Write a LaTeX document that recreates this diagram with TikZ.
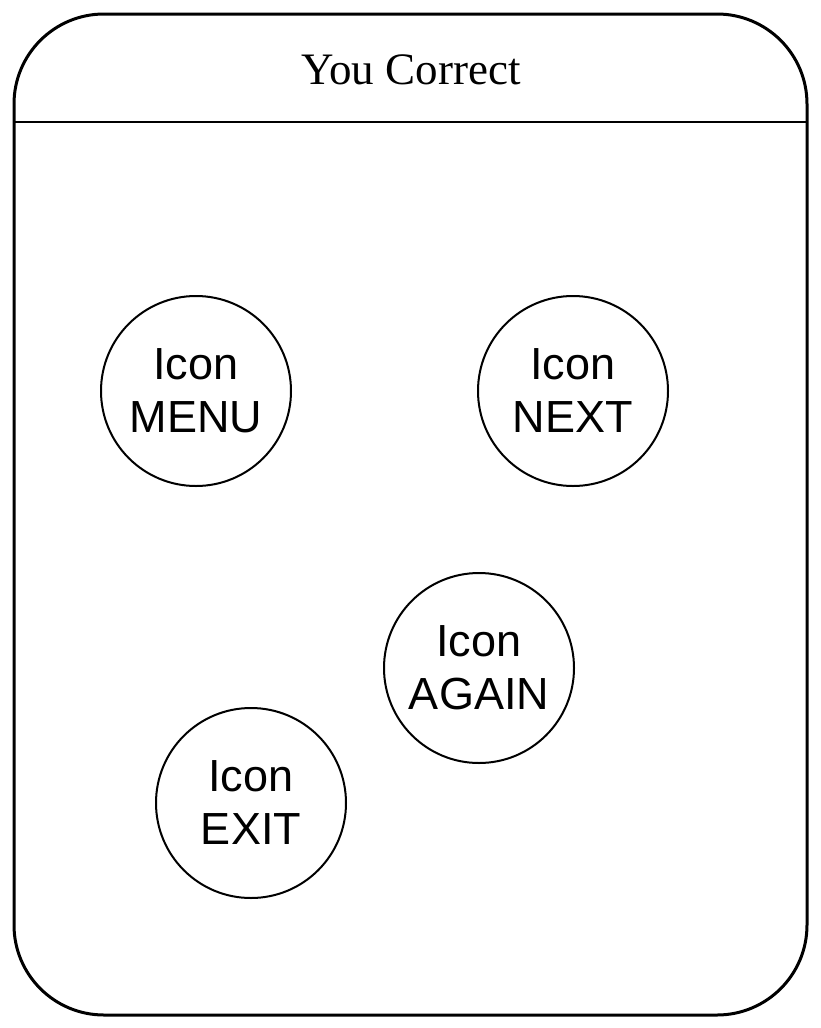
\documentclass[tikz,border=0pt]{standalone}
\usepackage{fontspec}
\setmainfont{Liberation Serif}
\newfontfamily\iconfont{Liberation Sans}
\usetikzlibrary{positioning}

\begin{document}
\begin{tikzpicture}[%
    x=1pt, y=-1pt,
    icon/.style={%
      draw,
      circle,
      line width=2pt,
      minimum size=190pt,
      inner sep=0pt,
      align=center,
      font=\iconfont\fontsize{45}{53}\selectfont,
    },
  ]
  \useasboundingbox (0,0) rectangle (821,1028);
  % screen frame
  \draw [line width=3pt, rounded corners=90pt] (14,14) rectangle (807,1015);
  \coordinate (bar left) at (14,122);
  \coordinate (bar right) at (807,122);
  \draw [line width=1.5pt] (bar left) -- (bar right);
  \node [font=\fontsize{45}{54}\selectfont] (title) at (411,70) {You Correct};

  % buttons
  \node [icon] (menu) at (196,391) {Icon\\MENU};
  \node [icon] (next) at (573,391) {Icon\\NEXT};
  \node [icon] (again) at (479,668) {Icon\\AGAIN};
  \node [icon] (exit) at (251,803) {Icon\\EXIT};
\end{tikzpicture}
\end{document}
